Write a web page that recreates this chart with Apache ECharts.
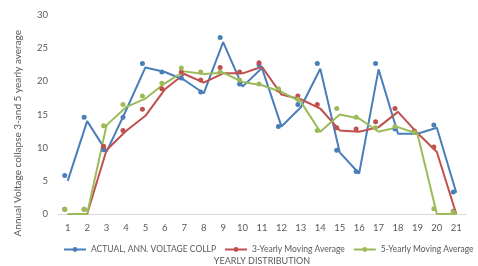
<!DOCTYPE html>
<html>
<head>
<meta charset="utf-8">
<script src="https://cdn.jsdelivr.net/npm/echarts@6/dist/echarts.min.js"></script>
<style>
  html, body { margin: 0; padding: 0; background: #fff; }
  #c { width: 478px; height: 266px; }
</style>
</head>
<body>
<div id="c"></div>
<script>
const years = ['1', '2', '3', '4', '5', '6', '7', '8', '9', '10', '11', '12', '13', '14', '15', '16', '17', '18', '19', '20', '21']
const yTicks = [0, 5, 10, 15, 20, 25, 30]

// line vertices
const actualLine = [5.0, 14.0, 9.4, 15.6, 22.1, 21.4, 20.2, 18.2, 25.9, 19.2, 22.0, 13.2, 16.1, 21.9, 9.3, 6.1, 21.8, 12.1, 12.1, 13.0, 3.2]
const avg3Line = [0, 0, 9.65, 12.5, 14.8, 18.8, 21.1, 19.8, 21.2, 21.2, 22.2, 18.0, 17.3, 15.9, 12.6, 12.4, 13.1, 15.4, 12.2, 9.35, 0]
const avg5Line = [0, 0, 13.4, 16.1, 17.4, 19.7, 21.5, 21.1, 21.3, 19.9, 19.4, 18.4, 16.9, 12.4, 15.0, 14.4, 12.4, 13.1, 12.1, 0, 0]

// markers (drawn slightly off the lines in the source)
const actualDots = [5.8, 14.6, 9.7, 14.6, 22.7, 21.4, 20.5, 18.4, 26.6, 19.6, 22.5, 13.2, 16.5, 22.7, 9.6, 6.4, 22.7, 12.8, 12.3, 13.4, 3.3]
const avg3Dots = [0.7, 0.7, 10.2, 12.6, 15.8, 18.9, 21.4, 20.2, 22.1, 21.4, 22.8, 18.7, 17.8, 16.5, 13.0, 12.8, 13.9, 15.9, 12.5, 10.1, 0.4]
const avg5Dots = [0.7, 0.7, 13.3, 16.5, 17.8, 19.7, 22.0, 21.4, 21.4, 20.2, 19.6, 18.9, 17.3, 12.6, 15.9, 14.6, 13.0, 13.2, 12.3, 0.8, 0.3]

const names = ['ACTUAL, ANN. VOLTAGE COLLP', '3-Yearly Moving Average', '5-Yearly Moving Average']
const colors = ['#4a7ebb', '#c0504d', '#9bbb59']
const font = 'Lato, "Open Sans", sans-serif'
const grey = '#595959'

function lineSeries(i, data) {
  return {
    name: names[i],
    type: 'line',
    data,
    symbol: 'circle',
    symbolSize: 6,
    showSymbol: false,
    lineStyle: { color: colors[i], width: 2 },
    itemStyle: { color: colors[i] },
    z: 2,
  }
}
function dotSeries(i, data) {
  return {
    name: 'dots' + i,
    type: 'scatter',
    data,
    symbol: 'circle',
    symbolSize: 5,
    symbolOffset: [-3, 0],
    itemStyle: { color: colors[i], opacity: 1 },
    z: 3,
  }
}

const chart = echarts.init(document.getElementById('c'))
chart.setOption({
  animation: false,
  textStyle: { fontFamily: font },
  grid: { left: 58, right: 12, top: 15, bottom: 52, outerBoundsMode: 'none' },
  legend: {
    data: names,
    top: 240,
    left: 58,
    width: 460,
    itemWidth: 22,
    itemHeight: 6,
    itemGap: 8,
    textStyle: { color: grey, fontSize: 8.5, fontFamily: font },
  },
  xAxis: {
    type: 'category',
    data: years,
    boundaryGap: true,
    name: 'YEARLY DISTRIBUTION',
    nameLocation: 'middle',
    nameGap: 43,
    nameTextStyle: { color: grey, fontSize: 9 },
    axisLine: { lineStyle: { color: '#d9d9d9', width: 1 } },
    axisTick: { show: false },
    axisLabel: { color: grey, fontSize: 9.5, margin: 9 },
  },
  yAxis: {
    type: 'value',
    min: yTicks[0],
    max: yTicks[yTicks.length - 1],
    interval: 5,
    axisLine: { show: false },
    axisTick: { show: false },
    splitLine: { show: false },
    axisLabel: { color: grey, fontSize: 9.5, margin: 10 },
  },
  graphic: [{
    type: 'text',
    left: 13,
    top: 30,
    rotation: Math.PI / 2,
    style: {
      text: 'Annual Voltage collapse 3-and 5 yearly average',
      fill: grey,
      font: '10px ' + font,
    },
  }],
  series: [
    lineSeries(0, actualLine),
    lineSeries(1, avg3Line),
    lineSeries(2, avg5Line),
    dotSeries(0, actualDots),
    dotSeries(1, avg3Dots),
    dotSeries(2, avg5Dots),
  ],
})
</script>
</body>
</html>
